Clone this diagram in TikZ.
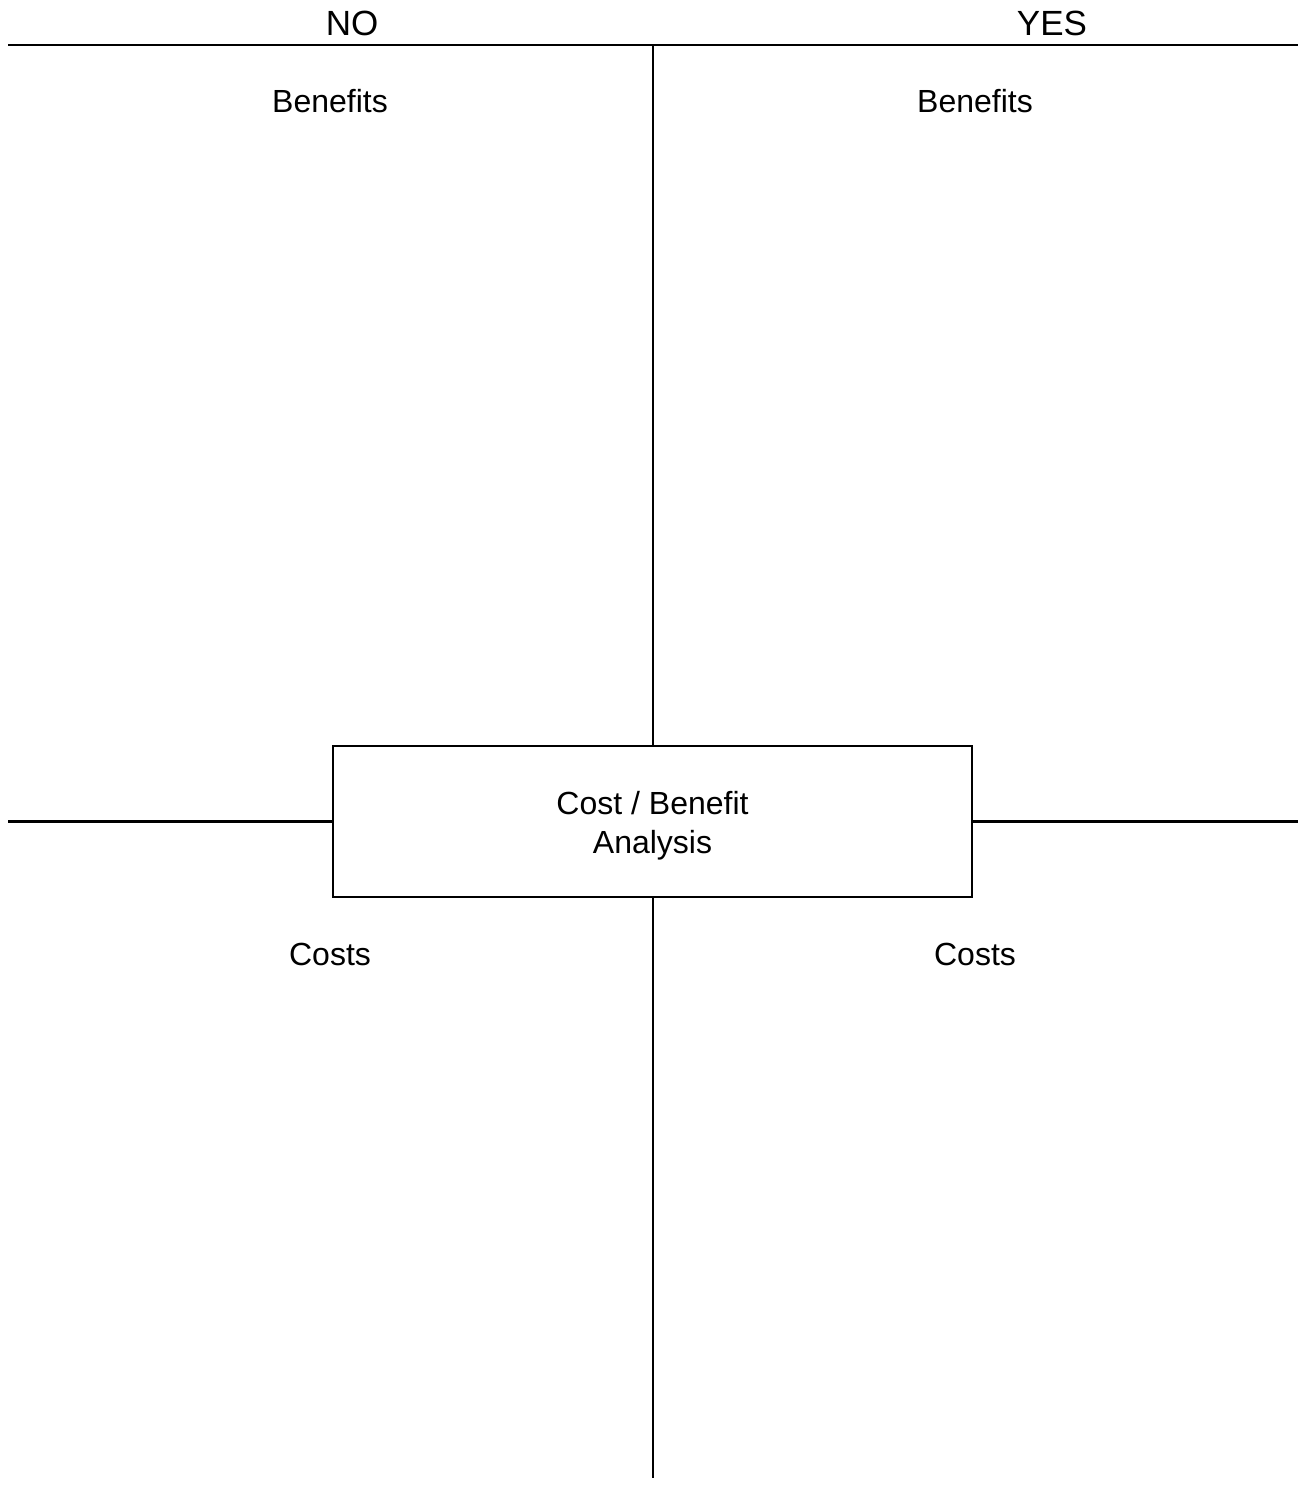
\documentclass[tikz,border=0pt]{standalone}
\usepackage{fontspec}
\setmainfont{Liberation Sans}
\begin{document}
\begin{tikzpicture}[x=1pt,y=-1pt,
  rule/.style={line width=2.5pt,black},
  lbl/.style={font=\fontsize{32}{39}\selectfont,anchor=base,inner sep=0pt},
  head/.style={font=\fontsize{35}{42}\selectfont,anchor=base,inner sep=0pt},
  centerbox/.style={draw,line width=2pt,minimum width=639pt,minimum height=151pt,
    align=center,font=\fontsize{32}{39}\selectfont,inner sep=0pt}]
\useasboundingbox (0,0) rectangle (1306,1486);
% coordinates
\coordinate (tl) at (8,45);
\coordinate (tr) at (1298,45);
\coordinate (tm) at (653,45);
\coordinate (bm) at (653,1478);
\coordinate (ml) at (8,821.5);
\coordinate (mr) at (1298,821.5);
% central box
\node[centerbox] (box) at (652.5,821.5) {\rule{0pt}{31pt}Cost / Benefit\\Analysis};
% lines
\draw[rule] (tl) -- (tr);
\draw[rule] (tm) -- (box.north -| tm);
\draw[rule] (box.south -| bm) -- (bm);
\draw[rule] (ml) -- (box.west);
\draw[rule] (box.east) -- (mr);
% headings
\node[head] (no) at (352,35) {NO};
\node[head] (yes) at (1052,35) {YES};
% labels
\node[lbl] (benL) at (330,112) {Benefits};
\node[lbl] (benR) at (975,112) {Benefits};
\node[lbl] (costL) at (330,965) {Costs};
\node[lbl] (costR) at (975,965) {Costs};
\end{tikzpicture}
\end{document}
